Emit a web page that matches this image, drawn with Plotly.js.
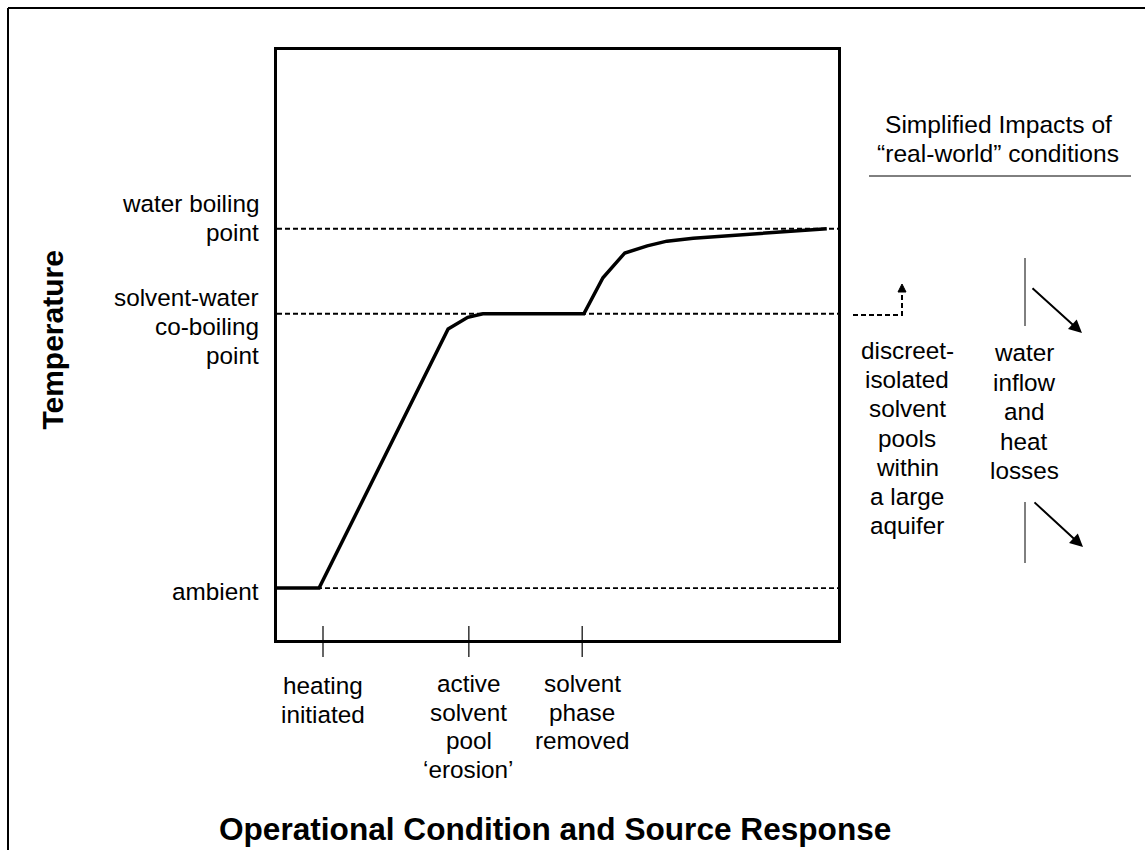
<!DOCTYPE html>
<html>
<head>
<meta charset="utf-8">
<script src="https://cdn.plot.ly/plotly-3.0.1.min.js"></script>
<style>html,body{margin:0;padding:0;background:#fff;}</style>
</head>
<body>
<div id="chart" style="width:1146px;height:850px;"></div>
<script>
// ---- data ----
const curveX = [0, 7.5, 30.5, 34.0, 36.7, 54.7, 58.1, 62.0, 66.0, 69.5, 74.2, 98.0];
const curveY = [8.8, 8.8, 52.7, 54.7, 55.3, 55.3, 61.4, 65.6, 66.8, 67.6, 68.1, 69.7];
const levelNames = ["water boiling", "solvent-water co-boiling", "ambient"];
const levelValues = [69.7, 55.3, 8.8];
const levelLabels = [["water boiling", "point"], ["solvent-water", "co-boiling", "point"], ["ambient"]];
const milestoneX = [8.2, 34.2, 54.4];
const milestoneLabels = [["heating", "initiated"], ["active", "solvent", "pool", "\u2018erosion\u2019"], ["solvent", "phase", "removed"]];
const headerLines = ["Simplified Impacts of", "\u201creal-world\u201d conditions"];
const poolLines = ["discreet-", "isolated", "solvent", "pools", "within", "a large", "aquifer"];
const lossLines = ["water", "inflow", "and", "heat", "losses"];
const xTitle = "Operational Condition and Source Response";
const yTitle = "Temperature";

// ---- layout helpers (pixel -> paper) ----
const L = 277, R = 838, T = 50, B = 640;
const px2x = px => (px - L) / (R - L);
const py2y = py => (B - py) / (B - T);
const FONT = "Liberation Sans, Arial, Helvetica, sans-serif";

const traces = [];
levelValues.forEach((v, i) => {
  traces.push({
    x: [0, 100], y: [v, v], mode: "lines", name: levelNames[i],
    line: {color: "#000", width: 1.9, dash: "5px,3px"}, hoverinfo: "skip"
  });
});
traces.push({
  x: curveX, y: curveY, mode: "lines", name: "temperature",
  line: {color: "#000", width: 3.5}, hoverinfo: "skip"
});

const annotations = [];
function addLines(lines, opts) {
  lines.forEach((t, i) => {
    const base = opts.baseline + i * opts.spacing;
    const a = {
      text: opts.bold ? "<b>" + t + "</b>" : t,
      showarrow: false,
      xanchor: opts.anchor, yanchor: "middle",
      yref: "paper", y: py2y(base - 0.3465 * opts.size),
      font: {family: FONT, size: opts.size, color: "#000"}
    };
    if (opts.xData !== undefined) { a.xref = "x"; a.x = opts.xData; }
    else { a.xref = "paper"; a.x = px2x(opts.xPx); }
    annotations.push(a);
  });
}

const FS = 24.3;
// y-level labels
const levelBase = [212, 306, 600];
levelLabels.forEach((lines, i) => addLines(lines, {xPx: 261, anchor: "right", baseline: levelBase[i], spacing: 29, size: FS}));
// milestone labels
const msBase = [694, 692, 692];
milestoneLabels.forEach((lines, i) => addLines(lines, {xData: milestoneX[i], anchor: "center", baseline: msBase[i], spacing: 28.7, size: FS}));
// right side
addLines(headerLines, {xPx: 998, anchor: "center", baseline: 133, spacing: 29, size: 24.6});
addLines(poolLines, {xPx: 907, anchor: "center", baseline: 359, spacing: 29.2, size: FS});
addLines(lossLines, {xPx: 1024, anchor: "center", baseline: 361, spacing: 29.5, size: FS});
// titles
addLines([xTitle], {xPx: 554.5, anchor: "center", baseline: 840, spacing: 0, size: 31.6, bold: true});
annotations.push({
  text: "<b>" + yTitle + "</b>", showarrow: false, textangle: -90,
  xref: "paper", yref: "paper", x: px2x(51.6), y: py2y(340),
  xanchor: "center", yanchor: "middle",
  font: {family: FONT, size: 30, color: "#000"}
});
// diagonal arrows
[[1082, 333, -51, -46], [1083, 547, -50, -46]].forEach(a => {
  annotations.push({
    text: "", showarrow: true, xref: "paper", yref: "paper",
    x: px2x(a[0]), y: py2y(a[1]), ax: a[2], ay: a[3],
    arrowhead: 2, arrowsize: 1.3, arrowwidth: 2, arrowcolor: "#000", standoff: 0, startstandoff: 0
  });
});

const shapes = [];
function line(x0, y0, x1, y1, w, dash) {
  shapes.push({type: "line", xref: "paper", yref: "paper",
    x0: px2x(x0), y0: py2y(y0), x1: px2x(x1), y1: py2y(y1),
    line: {color: "#000", width: w, dash: dash || "solid"}});
}
// outer frame (top + left)
line(8, 8, 1145, 8, 2);
line(8, 8, 8, 850, 2);
// header rule
line(869, 176, 1131, 176, 1);
// thin vertical bars
line(1025, 258, 1025, 326, 1);
line(1025, 502, 1025, 563, 1);
// dashed elbow
shapes.push({type: "path", xref: "paper", yref: "paper",
  path: "M " + px2x(853) + "," + py2y(315) + " L " + px2x(902) + "," + py2y(315) + " L " + px2x(902) + "," + py2y(291),
  line: {color: "#000", width: 2, dash: "5px,3px"}});
shapes.push({type: "path", xref: "paper", yref: "paper",
  path: "M " + px2x(898) + "," + py2y(292) + " L " + px2x(902) + "," + py2y(284) + " L " + px2x(906) + "," + py2y(292) + " Z",
  fillcolor: "#000", line: {color: "#000", width: 1}});
// milestone ticks (crossing the x-axis)
milestoneX.forEach(v => {
  shapes.push({type: "line", xref: "x", yref: "paper", x0: v, x1: v,
    y0: py2y(626), y1: py2y(657), line: {color: "#000", width: 1.2}});
});

const layout = {
  width: 1146, height: 850,
  margin: {l: L, r: 1146 - R, t: T, b: 850 - B, pad: 0},
  paper_bgcolor: "#fff", plot_bgcolor: "#fff",
  showlegend: false, hovermode: false,
  xaxis: {range: [0, 100], showgrid: false, zeroline: false, showticklabels: false, ticks: "",
    showline: true, mirror: true, linecolor: "#000", linewidth: 3, fixedrange: true},
  yaxis: {range: [0, 100], showgrid: false, zeroline: false, showticklabels: false, ticks: "",
    showline: true, mirror: true, linecolor: "#000", linewidth: 3, fixedrange: true},
  annotations: annotations,
  shapes: shapes
};

Plotly.newPlot("chart", traces, layout, {staticPlot: true, displayModeBar: false});
</script>
</body>
</html>
